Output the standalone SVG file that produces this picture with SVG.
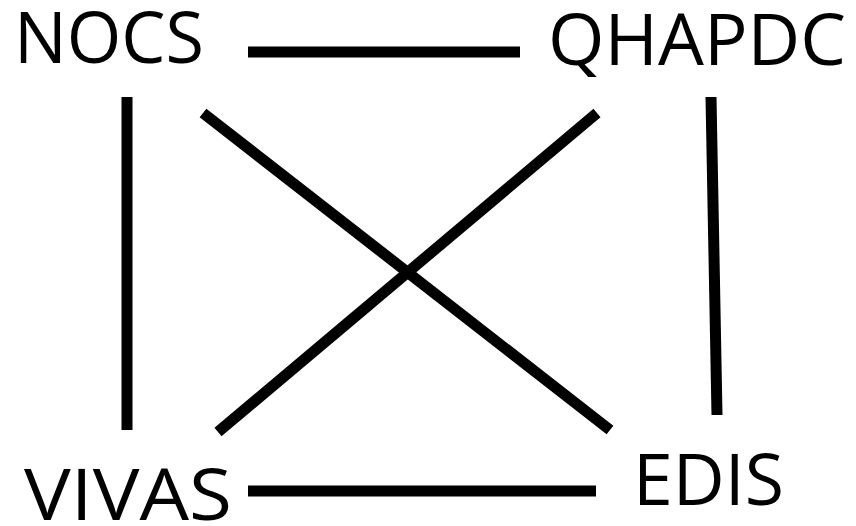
<svg xmlns="http://www.w3.org/2000/svg" width="856" height="526" viewBox="0 0 856 526">
<style>
.lbl{font-family:"Open Sans","Liberation Sans",sans-serif;font-size:71px;fill:#000}
.edge{stroke:#000;stroke-width:11;fill:none;stroke-linecap:butt}
</style>
<rect width="856" height="526" fill="#fff"/>
<g id="connectors">
<line class="edge" x1="248" y1="52" x2="520" y2="52"/>
<line class="edge" x1="127" y1="97" x2="127" y2="430"/>
<line class="edge" x1="203" y1="113" x2="610" y2="430"/>
<line class="edge" x1="597" y1="113" x2="218" y2="432"/>
<line class="edge" x1="711" y1="97" x2="717" y2="415"/>
<line class="edge" x1="248" y1="491" x2="596" y2="491"/>
</g>
<g id="NOCS"><text class="lbl" x="14" y="63" textLength="190" lengthAdjust="spacingAndGlyphs">NOCS</text></g>
<g id="QHAPDC"><text class="lbl" x="548" y="65" textLength="298" lengthAdjust="spacingAndGlyphs">QHAPDC</text></g>
<g id="VIVAS"><text class="lbl" x="24" y="520" textLength="208" lengthAdjust="spacingAndGlyphs">VIVAS</text></g>
<g id="EDIS"><text class="lbl" x="633" y="505" textLength="151" lengthAdjust="spacingAndGlyphs">EDIS</text></g>
</svg>
